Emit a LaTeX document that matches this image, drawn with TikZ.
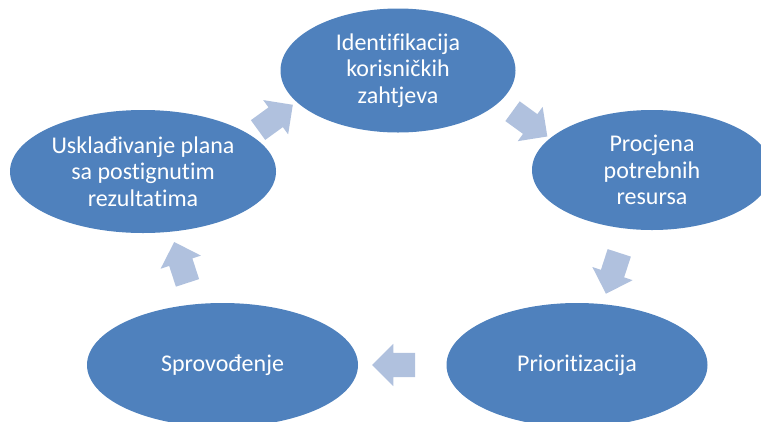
\documentclass[tikz,border=0pt]{standalone}
\usepackage{fontspec}
\setmainfont{Carlito}[Ligatures=NoCommon]
\usetikzlibrary{shapes,arrows}
\definecolor{phaseblue}{RGB}{79,129,189}
\definecolor{arrowblue}{RGB}{176,193,222}
\tikzstyle{phase} = [ellipse, fill=phaseblue, text=white, align=center,
    inner sep=0pt, font=\fontsize{24}{26.5}\selectfont]
\tikzstyle{cyclearrow} = [single arrow, fill=arrowblue, inner xsep=0pt,
    inner ysep=12pt, minimum height=43pt, single arrow head extend=9pt]

\begin{document}
\begin{tikzpicture}[x=1pt, y=-1pt]

    \useasboundingbox (0,0) rectangle (761,421);
    \clip (0,0) rectangle (761,421);

    % Place nodes
    \node [phase, minimum width=235pt, minimum height=124pt] (ident) at (398,70.5)
        {Identifikacija\\korisničkih\\zahtjeva};
    \node [phase, minimum width=240pt, minimum height=120pt] (procj) at (652,170)
        {Procjena\\potrebnih\\resursa};
    \node [phase, minimum width=261pt, minimum height=124pt] (prior) at (577,365)
        {Prioritizacija};
    \node [phase, minimum width=271pt, minimum height=124pt] (sprov) at (222.5,365)
        {Sprovođenje};
    \node [phase, minimum width=266pt, minimum height=123pt] (uskl) at (143,171.5)
        {Usklađivanje plana\\sa postignutim\\rezultatima};

    % Draw arrows
    \path (ident.center) -- node [cyclearrow, rotate=-36] (a1) {} (procj.center);
    \path (procj.center) -- node [cyclearrow, rotate=-108] (a2) {} (prior.center);
    \path (prior.center) -- node [cyclearrow, rotate=180] (a3) {} (sprov.center);
    \path (sprov.center) -- node [cyclearrow, rotate=108] (a4) {} (uskl.center);
    \path (uskl.center) -- node [cyclearrow, rotate=36] (a5) {} (ident.center);

\end{tikzpicture}
\end{document}
